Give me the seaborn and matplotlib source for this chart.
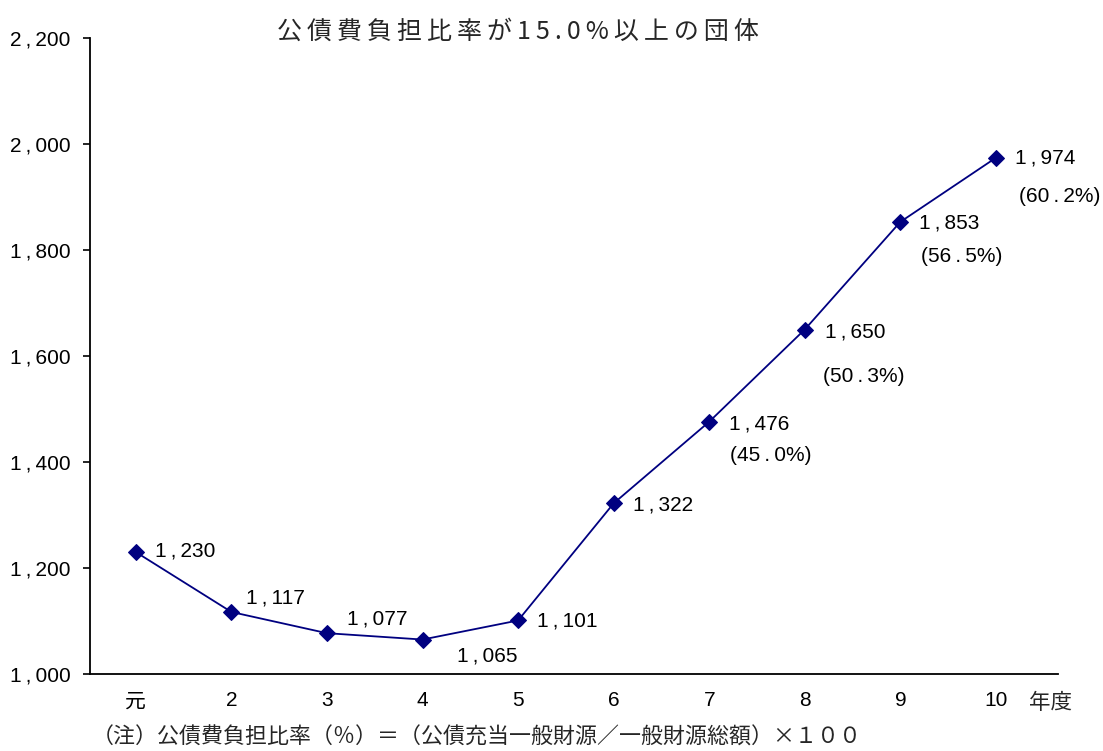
import matplotlib
matplotlib.use("Agg")
import matplotlib.pyplot as plt
import matplotlib.ticker as mticker
import seaborn as sns
import pandas as pd

# Fiscal years (元 = first year of the era) and number of bodies
years = ["元", "2", "3", "4", "5", "6", "7", "8", "9", "10"]
counts = [1230, 1117, 1077, 1065, 1101, 1322, 1476, 1650, 1853, 1974]
# Share of all bodies, shown for the later years
shares = [None, None, None, None, None, None, 45.0, 50.3, 56.5, 60.2]

y_ticks = [1000, 1200, 1400, 1600, 1800, 2000, 2200]

sns.set_style("ticks")
NUM = ["Liberation Sans Narrow", "Liberation Sans", "Noto Sans CJK JP", "DejaVu Sans"]
JP = ["Noto Sans CJK JP", "Liberation Sans", "DejaVu Sans"]
plt.rcParams["font.family"] = NUM
THIN = "\u2009"
FS = 15


def num_text(s):
    """Open up the comma and decimal point with thin spaces."""
    return s.replace(",", THIN + "," + THIN).replace(".", THIN + "." + THIN)


df = pd.DataFrame({"pos": range(len(years)), "count": counts})

fig = plt.figure(figsize=(11.03, 7.51), dpi=100)
ax = fig.add_axes([90 / 1103, 1 - 674 / 751, (1058 - 90) / 1103, (674 - 38) / 751])

sns.lineplot(data=df, x="pos", y="count", ax=ax, color="#000080", linewidth=1.3,
             marker="D", markersize=8, markeredgecolor="#000080",
             markerfacecolor="#000080")

ax.set_ylim(1000, 2200)
ax.set_xlim(-0.48, 9.65)
ax.set_yticks(y_ticks)
ax.yaxis.set_major_formatter(mticker.FuncFormatter(lambda v, p: num_text(f"{int(v):,}")))
ax.set_xticks(range(len(years)))
ax.set_xticklabels(years)
for lab in ax.get_xticklabels():
    if lab.get_text() == "元":
        lab.set_fontfamily(JP)
        lab.set_fontsize(13.5)
ax.tick_params(axis="y", direction="out", length=5, width=1.2, labelsize=FS, pad=9,
               colors="black")
ax.tick_params(axis="x", length=0, labelsize=FS, pad=12, colors="black")
ax.set_xlabel("")
ax.set_ylabel("")
for side in ("top", "right"):
    ax.spines[side].set_visible(False)
for side in ("left", "bottom"):
    ax.spines[side].set_linewidth(1.3)
    ax.spines[side].set_color("black")

# Value labels (pixel offsets from each point)
value_offsets = [(19, 1), (15, 14), (20, 14), (65, -16), (19, -1),
                 (19, -2), (20, -2), (20, -2), (19, -1), (19, 0)]
for i, (c, (dx, dy)) in enumerate(zip(counts, value_offsets)):
    ha = "center" if dx > 30 else "left"
    ax.annotate(num_text(f"{c:,}"), (i, c), textcoords="offset pixels",
                xytext=(dx, dy), ha=ha, va="center", fontsize=FS, color="black")

share_offsets = {6: (62, -34), 7: (59, -47), 8: (61, -35), 9: (64, -39)}
for i, s in enumerate(shares):
    if s is None:
        continue
    dx, dy = share_offsets[i]
    ax.annotate(num_text(f"({s:.1f}%)"), (i, counts[i]), textcoords="offset pixels",
                xytext=(dx, dy), ha="center", va="center", fontsize=FS,
                color="black")

fig.text(518 / 1103, 1 - 32 / 751, THIN.join("公債費負担比率が15.0%以上の団体"),
         ha="center", va="center", fontsize=18, fontfamily=JP)
fig.text(1051 / 1103, 1 - 703 / 751, "年度", ha="center", va="center",
         fontsize=15.5, fontfamily=JP)
fig.text(92 / 1103, 1 - 738 / 751,
         "（注）公債費負担比率（％）＝（公債充当一般財源／一般財源総額）×１００",
         ha="left", va="center", fontsize=15.8, fontfamily=JP)

fig.savefig("out.png", dpi=100)
